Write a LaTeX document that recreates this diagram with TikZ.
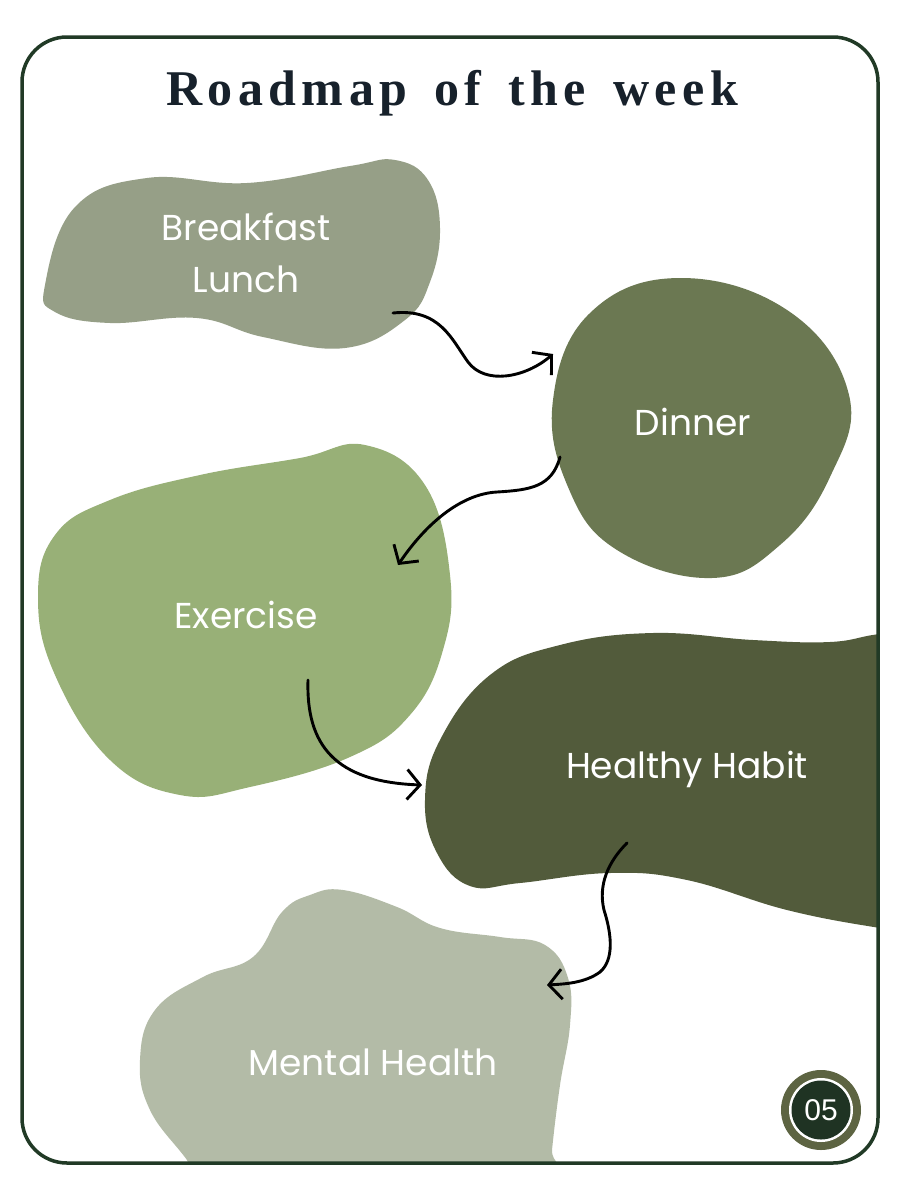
\documentclass[tikz,border=0pt]{standalone}
\usepackage{fontspec}
\setmainfont{Liberation Serif}
\newfontfamily\bodyfont{Poppins}
\newfontfamily\badgefont{Liberation Sans}
\newfontfamily\titlefont[LetterSpace=11,WordSpace=1.5]{Liberation Serif}
\usetikzlibrary{arrows.meta}
\definecolor{frameC}{HTML}{213A26}
\definecolor{titleC}{HTML}{17212B}
\definecolor{bOne}{HTML}{969F87}
\definecolor{bTwo}{HTML}{6B7852}
\definecolor{bThree}{HTML}{98B077}
\definecolor{bFour}{HTML}{525B3B}
\definecolor{bFive}{HTML}{B3BBA7}
\definecolor{badgeRing}{HTML}{5D6442}
\definecolor{badgeIn}{HTML}{1F3323}
\begin{document}
\begin{tikzpicture}[x=1pt,y=-1pt,
  lbl/.style={text=white,font=\bodyfont\fontsize{36}{40}\selectfont,anchor=base,inner sep=0pt},
  arr/.style={line width=2.9pt,line cap=round,-{Straight Barb[length=13pt,width=30pt,line width=2.9pt]}}]
\useasboundingbox (0,0) rectangle (900,1200);
\fill[white] (0,0) rectangle (900,1200);
\begin{scope}
\clip[rounded corners=45pt] (22,37) rectangle (878,1163);
% Breakfast blob
\fill[bOne] plot[smooth cycle,tension=0.7] coordinates {(45,285) (75,207) (147,178) (247,183) (350,166) (395,160) (428,180) (440,228) (430,282) (405,320) (345,348) (263,337) (197,318) (110,323) (55,312)};
% Dinner blob
\fill[bTwo] plot[smooth cycle,tension=0.7] coordinates {(553,400) (590,313) (680,278) (790,312) (849,395) (830,477) (780,545) (712,578) (617,550) (568,487)};
% Exercise blob
\fill[bThree] plot[smooth cycle,tension=0.7] coordinates {(365,445) (425,485) (450,575) (443,650) (410,715) (350,757) (250,787) (180,795) (110,760) (55,675) (38,597) (55,535) (110,500) (200,475) (300,458)};
% Healthy blob
\fill[bFour] plot[smooth cycle,tension=0.7] coordinates {(560,645) (653,633) (753,640) (830,642) (880,634) (940,630) (940,935) (880,928) (787,910) (687,880) (610,873) (520,883) (470,886) (437,853) (425,800) (440,740) (490,675)};
% Mental blob
\fill[bFive] plot[smooth cycle,tension=0.7] coordinates {(343,890) (397,907) (440,928) (500,937) (545,945) (568,978) (570,1025) (560,1085) (552,1150) (548,1200) (215,1200) (187,1160) (150,1110) (140,1060) (155,1010) (203,977) (253,957) (282,912) (310,895)};
\end{scope}
\draw[frameC,line width=3.5pt,rounded corners=45pt] (22,37) rectangle (878,1163);
% title
\node[titleC,anchor=base,inner sep=0pt,font=\titlefont\bfseries\fontsize{50}{54}\selectfont] (title) at (452,105) {Roadmap of the week};
% labels
\node[lbl] (breakfast) at (246,240) {Breakfast};
\node[lbl] (lunch) at (246,292) {Lunch};
\node[lbl] (dinner) at (693,435) {Dinner};
\node[lbl] (exercise) at (246,628) {Exercise};
\node[lbl] (healthy) at (687,778) {Healthy Habit};
\node[lbl] (mental) at (373,1075) {Mental Health};
% connector ends
\coordinate (a1s) at (393,313); \coordinate (a1e) at (553,354);
\coordinate (a2s) at (560,457); \coordinate (a2e) at (398,565);
\coordinate (a3s) at (308,680); \coordinate (a3e) at (422,785);
\coordinate (a4s) at (627,843); \coordinate (a4e) at (547,985);
\draw[arr] (a1s) .. controls (440,308) and (452,340) .. (468,362) .. controls (485,385) and (525,378) .. (a1e);
\draw[arr] (a2s) .. controls (552,487) and (530,490) .. (497,492) .. controls (460,494) and (425,525) .. (a2e);
\draw[arr] (a3s) .. controls (306,745) and (335,782) .. (a3e);
\draw[arr] (a4s) .. controls (608,862) and (598,885) .. (604,910) .. controls (612,935) and (614,960) .. (600,972) .. controls (585,983) and (565,984) .. (a4e);
% badge
\fill[badgeRing] (821,1110) circle (40);
\fill[white] (821,1110) circle (32);
\fill[badgeIn] (821,1110) circle (29.5);
\node[text=white,font=\badgefont\fontsize{30}{32}\selectfont,inner sep=0pt] (badge) at (821,1110) {05};
\end{tikzpicture}
\end{document}
